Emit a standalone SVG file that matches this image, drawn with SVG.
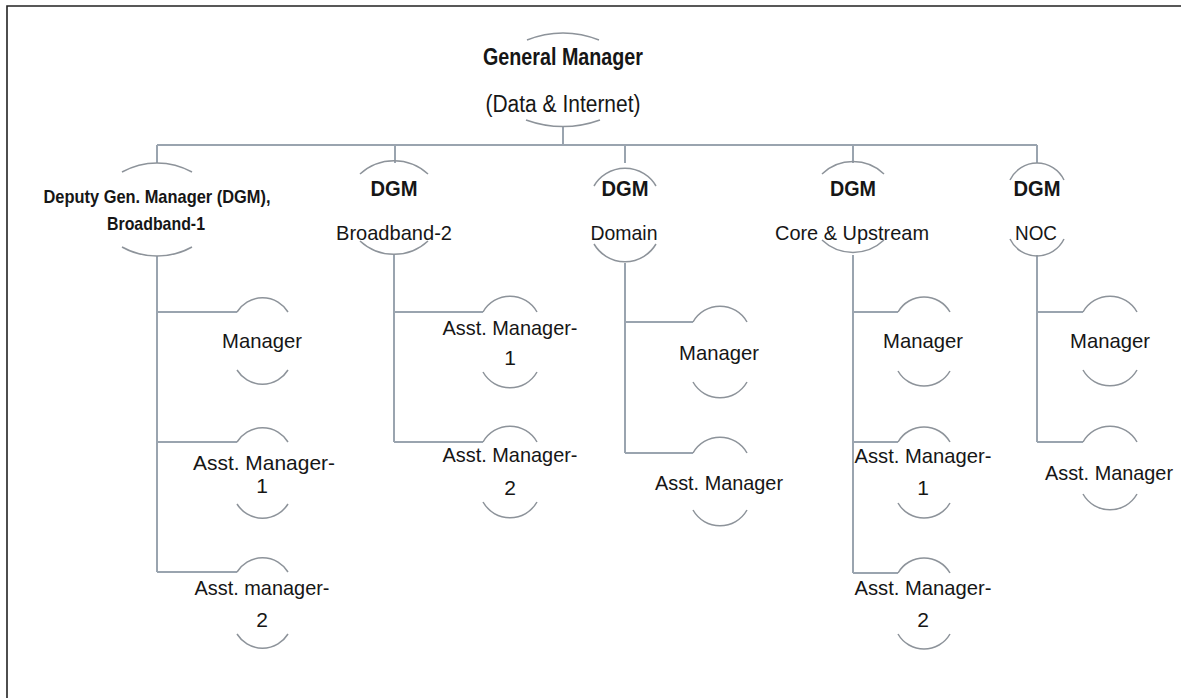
<svg xmlns="http://www.w3.org/2000/svg" width="1181" height="698" viewBox="0 0 1181 698">
  <style>
    .frame { fill: none; stroke: #222; stroke-width: 1.6; }
    .conn { fill: none; stroke: #9aa4af; stroke-width: 2; }
    .arc { fill: none; stroke: #8d939a; stroke-width: 1.5; }
    .lbl { font-family: "Liberation Sans", Arial, sans-serif; font-size: 21px; fill: #161616; text-anchor: middle; }
    .b { font-weight: bold; }
    .gm { font-size: 23px; }
    .dgm { font-size: 22px; }
    .dep { font-size: 19px; }
  </style>

  <rect width="1181" height="698" fill="#fff"/>
  <path class="frame" d="M7 698 V6 H1181"/>

  <!-- connectors -->
  <g id="connectors" class="conn">
    <path d="M563 126 V145"/>
    <path d="M157 145 H1037"/>
    <path d="M157 145 V163 M395 145 V163 M625 145 V163 M853 145 V163 M1037 145 V163"/>
    <path d="M157 256 V572 M157 312 H237 M157 442 H237 M157 572 H237"/>
    <path d="M394 255 V442 M394 312 H483 M394 442 H483"/>
    <path d="M625 263 V453 M625 322 H693 M625 453 H693"/>
    <path d="M853 255 V573 M853 312 H898 M853 442 H898 M853 573 H898"/>
    <path d="M1037 255 V442 M1037 312 H1083 M1037 442 H1083"/>
  </g>

  <!-- top level -->
  <g id="general-manager">
    <path class="arc" d="M527 40 A95 95 0 0 1 599 40"/>
    <path class="arc" d="M526 120 A110 110 0 0 0 600 120"/>
    <text class="lbl b gm" x="563" y="65" textLength="160" lengthAdjust="spacingAndGlyphs">General Manager</text>
    <text class="lbl gm" x="563" y="112" textLength="155" lengthAdjust="spacingAndGlyphs">(Data &amp; Internet)</text>
  </g>

  <!-- deputy general managers -->
  <g id="dgm-broadband-1">
    <path class="arc" d="M122 172 A72 72 0 0 1 192 172"/>
    <path class="arc" d="M122 247 A72 72 0 0 0 192 247"/>
    <text class="lbl b dep" x="157" y="203" textLength="227" lengthAdjust="spacingAndGlyphs">Deputy Gen. Manager (DGM),</text>
    <text class="lbl b dep" x="156" y="230" textLength="98" lengthAdjust="spacingAndGlyphs">Broadband-1</text>
  </g>

  <g id="dgm-broadband-2">
    <path class="arc" d="M360 174 A50 50 0 0 1 428 174"/>
    <path class="arc" d="M360 241 A50 50 0 0 0 428 241"/>
    <text class="lbl b dgm" x="394" y="196" textLength="47" lengthAdjust="spacingAndGlyphs">DGM</text>
    <text class="lbl" x="394" y="240" textLength="116" lengthAdjust="spacingAndGlyphs">Broadband-2</text>
  </g>

  <g id="dgm-domain">
    <path class="arc" d="M594 186 A36 36 0 0 1 656 186"/>
    <path class="arc" d="M594 244 A36 36 0 0 0 656 244"/>
    <text class="lbl b dgm" x="625" y="196" textLength="47" lengthAdjust="spacingAndGlyphs">DGM</text>
    <text class="lbl" x="624" y="240" textLength="67" lengthAdjust="spacingAndGlyphs">Domain</text>
  </g>

  <g id="dgm-core-upstream">
    <path class="arc" d="M822 174 A45 45 0 0 1 884 174"/>
    <path class="arc" d="M822 240 A45 45 0 0 0 884 240"/>
    <text class="lbl b dgm" x="853" y="196" textLength="46" lengthAdjust="spacingAndGlyphs">DGM</text>
    <text class="lbl" x="852" y="240" textLength="154" lengthAdjust="spacingAndGlyphs">Core &amp; Upstream</text>
  </g>

  <g id="dgm-noc">
    <path class="arc" d="M1010 180 A30 30 0 0 1 1064 180"/>
    <path class="arc" d="M1010 239 A30 30 0 0 0 1064 239"/>
    <text class="lbl b dgm" x="1037" y="196" textLength="47" lengthAdjust="spacingAndGlyphs">DGM</text>
    <text class="lbl" x="1036" y="240" textLength="42" lengthAdjust="spacingAndGlyphs">NOC</text>
  </g>

  <!-- Broadband-1 staff -->
  <g id="bb1-manager">
    <path class="arc" d="M237 312 A30 30 0 0 1 288 312"/>
    <path class="arc" d="M237 370 A30 30 0 0 0 288 370"/>
    <text class="lbl" x="262" y="348" textLength="80" lengthAdjust="spacingAndGlyphs">Manager</text>
  </g>
  <g id="bb1-asst-manager-1">
    <path class="arc" d="M237 442 A30 30 0 0 1 288 442"/>
    <path class="arc" d="M237 504 A30 30 0 0 0 288 504"/>
    <text class="lbl" x="264" y="470" textLength="142" lengthAdjust="spacingAndGlyphs">Asst. Manager-</text>
    <text class="lbl" x="262" y="493">1</text>
  </g>
  <g id="bb1-asst-manager-2">
    <path class="arc" d="M237 572 A30 30 0 0 1 288 572"/>
    <path class="arc" d="M237 634 A30 30 0 0 0 288 634"/>
    <text class="lbl" x="262" y="595" textLength="135" lengthAdjust="spacingAndGlyphs">Asst. manager-</text>
    <text class="lbl" x="262" y="627">2</text>
  </g>

  <!-- Broadband-2 staff -->
  <g id="bb2-asst-manager-1">
    <path class="arc" d="M483 312 A31 31 0 0 1 537 312"/>
    <path class="arc" d="M483 372 A31 31 0 0 0 537 372"/>
    <text class="lbl" x="510" y="335" textLength="135" lengthAdjust="spacingAndGlyphs">Asst. Manager-</text>
    <text class="lbl" x="510" y="365">1</text>
  </g>
  <g id="bb2-asst-manager-2">
    <path class="arc" d="M483 442 A31 31 0 0 1 537 442"/>
    <path class="arc" d="M483 502 A31 31 0 0 0 537 502"/>
    <text class="lbl" x="510" y="462" textLength="135" lengthAdjust="spacingAndGlyphs">Asst. Manager-</text>
    <text class="lbl" x="510" y="495">2</text>
  </g>

  <!-- Domain staff -->
  <g id="domain-manager">
    <path class="arc" d="M693 322 A31 31 0 0 1 747 322"/>
    <path class="arc" d="M693 382 A31 31 0 0 0 747 382"/>
    <text class="lbl" x="719" y="360" textLength="80" lengthAdjust="spacingAndGlyphs">Manager</text>
  </g>
  <g id="domain-asst-manager">
    <path class="arc" d="M693 453 A31 31 0 0 1 747 453"/>
    <path class="arc" d="M693 510 A31 31 0 0 0 747 510"/>
    <text class="lbl" x="719" y="490" textLength="128" lengthAdjust="spacingAndGlyphs">Asst. Manager</text>
  </g>

  <!-- Core & Upstream staff -->
  <g id="core-manager">
    <path class="arc" d="M898 312 A30 30 0 0 1 950 312"/>
    <path class="arc" d="M898 371 A30 30 0 0 0 950 371"/>
    <text class="lbl" x="923" y="348" textLength="80" lengthAdjust="spacingAndGlyphs">Manager</text>
  </g>
  <g id="core-asst-manager-1">
    <path class="arc" d="M898 442 A30 30 0 0 1 950 442"/>
    <path class="arc" d="M898 503 A30 30 0 0 0 950 503"/>
    <text class="lbl" x="923" y="463" textLength="137" lengthAdjust="spacingAndGlyphs">Asst. Manager-</text>
    <text class="lbl" x="923" y="495">1</text>
  </g>
  <g id="core-asst-manager-2">
    <path class="arc" d="M898 573 A30 30 0 0 1 950 573"/>
    <path class="arc" d="M898 634 A30 30 0 0 0 950 634"/>
    <text class="lbl" x="923" y="595" textLength="137" lengthAdjust="spacingAndGlyphs">Asst. Manager-</text>
    <text class="lbl" x="923" y="627">2</text>
  </g>

  <!-- NOC staff -->
  <g id="noc-manager">
    <path class="arc" d="M1083 312 A31 31 0 0 1 1137 312"/>
    <path class="arc" d="M1083 370 A31 31 0 0 0 1137 370"/>
    <text class="lbl" x="1110" y="348" textLength="80" lengthAdjust="spacingAndGlyphs">Manager</text>
  </g>
  <g id="noc-asst-manager">
    <path class="arc" d="M1083 442 A31 31 0 0 1 1137 442"/>
    <path class="arc" d="M1083 494 A31 31 0 0 0 1137 494"/>
    <text class="lbl" x="1109" y="480" textLength="128" lengthAdjust="spacingAndGlyphs">Asst. Manager</text>
  </g>
</svg>
